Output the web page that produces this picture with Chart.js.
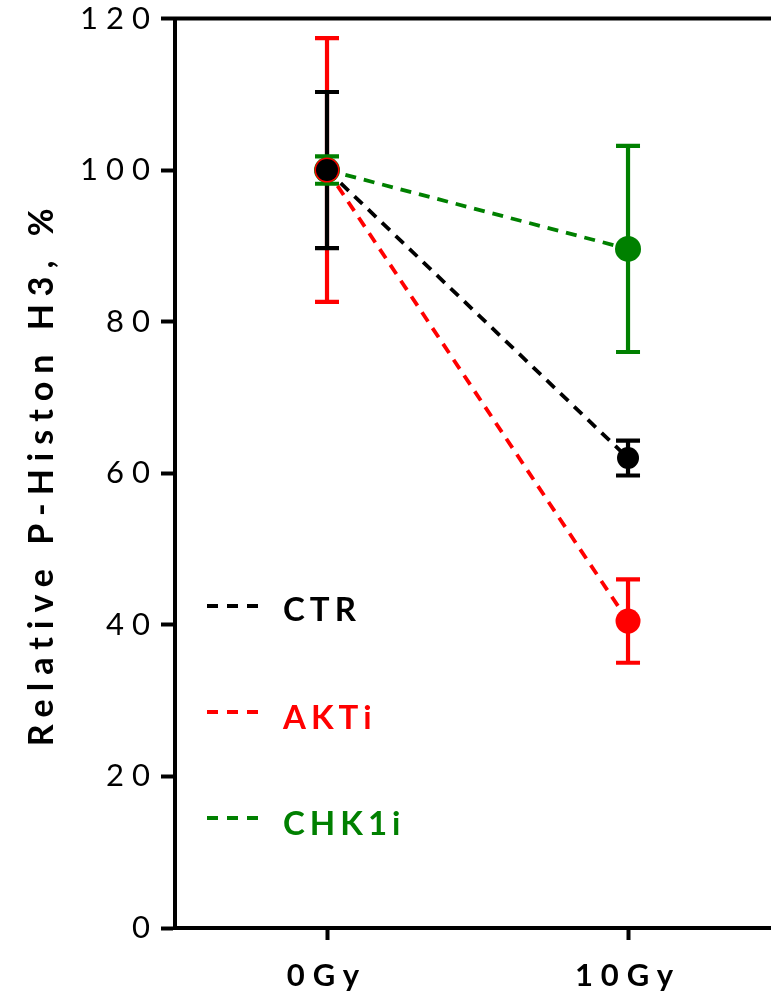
<!DOCTYPE html>
<html>
<head>
<meta charset="utf-8">
<script src="https://cdn.jsdelivr.net/npm/chart.js@4"></script>
<style>
  html, body { margin: 0; padding: 0; background: #fff; overflow: hidden; }
  #wrap { width: 771px; height: 1001px; }
</style>
</head>
<body>
<div id="wrap"><canvas id="mychart" width="771" height="1001"></canvas></div>
<script>
// values
const categories = ['0Gy', '10Gy'];
const seriesNames = ['CTR', 'AKTi', 'CHK1i'];
const seriesColors = ['#000000', '#ff0000', '#008000'];

const ctrMean = [100, 62.0];
const ctrErr = [10.3, 2.3];
const aktiMean = [100, 40.5];
const aktiErr = [17.4, 5.5];
const chk1Mean = [100, 89.6];
const chk1Err = [1.8, 13.6];

const yTicks = [0, 20, 40, 60, 80, 100, 120];

const means = [ctrMean, aktiMean, chk1Mean];
const errs = [ctrErr, aktiErr, chk1Err];
const radii = [11, 12.5, 13];
// draw order at the shared 0Gy point: green under red under black
const drawOrder = [1, 2, 3];

function toPoints(arr) {
  return arr.map((v, i) => ({ x: i, y: v }));
}

let datasets = seriesNames.map((name, k) => ({
  label: name,
  data: toPoints(means[k]),
  borderColor: seriesColors[k],
  backgroundColor: seriesColors[k],
  pointBackgroundColor: seriesColors[k],
  pointBorderWidth: 0,
  pointRadius: radii[k],
  borderWidth: 3.8,
  borderDash: [11, 8],
  fill: false,
  tension: 0,
  order: drawOrder[k],
}));

const errorBars = {
  id: 'errorBars',
  beforeDatasetsDraw(chart) {
    let ctx = chart.ctx;
    let xs = chart.scales.x;
    let ys = chart.scales.y;
    ctx.save();
    ctx.setLineDash([]);
    ctx.lineWidth = 4.2;
    // red, black, green (green caps end up on top)
    for (let k of [1, 0, 2]) {
      ctx.strokeStyle = seriesColors[k];
      for (let i = 0; i < categories.length; i++) {
        let px = xs.getPixelForValue(i);
        let top = ys.getPixelForValue(means[k][i] + errs[k][i]);
        let bot = ys.getPixelForValue(means[k][i] - errs[k][i]);
        ctx.beginPath();
        ctx.moveTo(px, top); ctx.lineTo(px, bot);
        ctx.moveTo(px - 12, top); ctx.lineTo(px + 12, top);
        ctx.moveTo(px - 12, bot); ctx.lineTo(px + 12, bot);
        ctx.stroke();
      }
    }
    ctx.restore();
  }
};

const frame = {
  id: 'frame',
  beforeDraw(chart) {
    chart.ctx.letterSpacing = '8px';
  },
  afterDraw(chart) {
    let ctx = chart.ctx;
    let a = chart.chartArea;
    ctx.save();
    ctx.setLineDash([]);
    ctx.strokeStyle = '#000';
    ctx.lineWidth = 4;
    ctx.beginPath();
    ctx.moveTo(a.left - 2, a.top);
    ctx.lineTo(chart.width, a.top);
    ctx.stroke();

    // legend inside the plot
    let lineY = [606, 712, 818];
    let textY = [610, 718, 824];
    ctx.font = 'bold 33px Lato';
    ctx.letterSpacing = '5px';
    ctx.textBaseline = 'middle';
    ctx.textAlign = 'left';
    chart.data.datasets.forEach((ds, k) => {
      ctx.strokeStyle = seriesColors[k];
      ctx.lineWidth = 4;
      ctx.setLineDash([11, 9]);
      ctx.beginPath();
      ctx.moveTo(207, lineY[k]);
      ctx.lineTo(258, lineY[k]);
      ctx.stroke();
      ctx.fillStyle = seriesColors[k];
      ctx.fillText(ds.label, 283, textY[k]);
    });
    ctx.restore();
  }
};

new Chart(document.getElementById('mychart'), {
  type: 'line',
  data: { datasets: datasets },
  options: {
    responsive: false,
    animation: false,
    layout: { autoPadding: false, padding: { top: 18, right: 0, bottom: 0, left: 0 } },
    plugins: { legend: { display: false }, tooltip: { enabled: false } },
    scales: {
      x: {
        type: 'linear',
        min: -0.505,
        max: 1.475,
        afterBuildTicks: (s) => { s.ticks = categories.map((c, i) => ({ value: i })); },
        afterFit: (s) => { s.height = 73; },
        ticks: {
          callback: (v) => categories[v],
          color: '#000',
          font: { family: 'Lato', size: 31, weight: 'bold' },
          padding: 17,
          maxRotation: 0,
        },
        grid: { drawOnChartArea: false, tickLength: 12, tickWidth: 4, tickColor: '#000' },
        border: { color: '#000', width: 4 },
      },
      y: {
        min: 0,
        max: 120,
        afterBuildTicks: (s) => { s.ticks = yTicks.map(v => ({ value: v })); },
        afterFit: (s) => { s.width = 175; },
        ticks: {
          color: '#000',
          font: { family: 'Lato', size: 31, lineHeight: 1 },
          padding: 3,
        },
        grid: { drawOnChartArea: false, tickLength: 14, tickWidth: 4, tickColor: '#000' },
        border: { color: '#000', width: 4 },
        title: {
          display: true,
          text: 'Relative P-Histon H3, %',
          color: '#000',
          font: { family: 'Lato', size: 34, weight: 'bold' },
          padding: { top: 22, bottom: 0 },
        },
      },
    },
  },
  plugins: [errorBars, frame],
});
</script>
</body>
</html>
